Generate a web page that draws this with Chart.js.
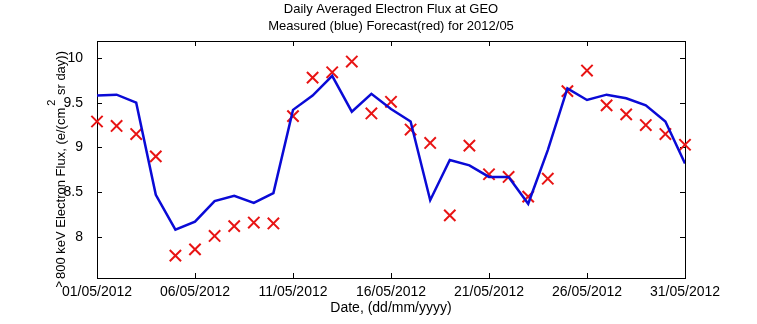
<!DOCTYPE html>
<html>
<head>
<meta charset="utf-8">
<title>Daily Averaged Electron Flux at GEO</title>
<script src="https://cdn.jsdelivr.net/npm/chart.js@4/dist/chart.umd.min.js"></script>
<style>
    html, body { margin: 0; padding: 0; background: #fff; }
    #contenedor { width: 757px; height: 324px; }
</style>
</head>
<body>
<div id="contenedor"><canvas id="chartFlujo" width="757" height="324"></canvas></div>
<script>
// Días del mes (mayo 2012)
const dias = [1, 2, 3, 4, 5, 6, 7, 8, 9, 10, 11, 12, 13, 14, 15, 16,
              17, 18, 19, 20, 21, 22, 23, 24, 25, 26, 27, 28, 29, 30, 31];

// Flujo medido (azul), log10
const flujoMedido = [9.58, 9.59, 9.50, 8.47, 8.08, 8.17, 8.40, 8.46, 8.38, 8.49,
                     9.42, 9.58, 9.80, 9.40, 9.60, 9.43, 9.29, 8.41, 8.86, 8.80,
                     8.67, 8.67, 8.37, 8.97, 9.66, 9.53, 9.59, 9.55, 9.47, 9.29, 8.82];

// Flujo pronosticado (rojo), log10
const flujoPronostico = [9.29, 9.24, 9.15, 8.90, 7.79, 7.86, 8.01, 8.12, 8.16, 8.15,
                         9.35, 9.78, 9.84, 9.96, 9.38, 9.51, 9.20, 9.05, 8.24, 9.02,
                         8.70, 8.67, 8.45, 8.65, 9.63, 9.86, 9.47, 9.37, 9.25, 9.15, 9.03];

// Marcas de los ejes
const diasMarcados = [1, 6, 11, 16, 21, 26, 31];
const etiquetasFecha = ['01/05/2012', '06/05/2012', '11/05/2012', '16/05/2012',
                        '21/05/2012', '26/05/2012', '31/05/2012'];
const valoresY = [8, 8.5, 9, 9.5, 10];

const fuente = "'Liberation Sans', Arial, sans-serif";

// Caja estilo MATLAB con marcas hacia dentro, títulos y etiquetas
const marcoMatlab = {
    id: 'marcoMatlab',
    beforeDatasetsDraw(chart) {
        const { ctx, chartArea: a, scales } = chart;
        ctx.save();
        ctx.strokeStyle = '#000';
        ctx.lineWidth = 1;
        ctx.strokeRect(a.left + 0.5, a.top + 0.5, a.right - a.left, a.bottom - a.top);
        ctx.beginPath();
        diasMarcados.forEach(d => {
            const x = Math.round(scales.x.getPixelForValue(d)) + 0.5;
            ctx.moveTo(x, a.bottom); ctx.lineTo(x, a.bottom - 5);
            ctx.moveTo(x, a.top); ctx.lineTo(x, a.top + 5);
        });
        valoresY.forEach(v => {
            const y = Math.round(scales.y.getPixelForValue(v)) + 0.5;
            ctx.moveTo(a.left, y); ctx.lineTo(a.left + 5, y);
            ctx.moveTo(a.right, y); ctx.lineTo(a.right - 5, y);
        });
        ctx.stroke();
        ctx.restore();
    },
    afterDraw(chart) {
        const { ctx, chartArea: a } = chart;
        const centro = (a.left + a.right) / 2;
        ctx.save();
        ctx.fillStyle = '#000';
        ctx.font = '13px ' + fuente;
        ctx.textAlign = 'center';
        ctx.textBaseline = 'middle';
        ctx.fillText('Daily Averaged Electron Flux at GEO', centro, 9);
        ctx.fillText('Measured (blue) Forecast(red) for 2012/05', centro, 26);
        ctx.font = '14px ' + fuente;
        ctx.fillText('Date, (dd/mm/yyyy)', centro, 308);
        ctx.fillText('^', 59, 288);

        // Etiqueta del eje Y con superíndice
        const p1 = '800 keV Electron Flux, (e/(cm';
        const p2 = ' sr day))';
        ctx.translate(61, 165);
        ctx.rotate(-Math.PI / 2);
        ctx.textAlign = 'left';
        ctx.font = '13px ' + fuente;
        const w1 = ctx.measureText(p1).width;
        const w3 = ctx.measureText(p2).width;
        ctx.font = '11px ' + fuente;
        const w2 = ctx.measureText('2').width + 3;
        const x = -(w1 + w2 + w3) / 2;
        ctx.font = '13px ' + fuente;
        ctx.fillText(p1, x, 0);
        ctx.font = '11px ' + fuente;
        ctx.fillText('2', x + w1 + 2, -9);
        ctx.font = '13px ' + fuente;
        ctx.fillText(p2, x + w1 + w2, 0);
        ctx.restore();
    }
};

const ctx = document.getElementById('chartFlujo').getContext('2d');
const chart = new Chart(ctx, {
    type: 'line',
    data: {
        datasets: [{
            label: 'Measured',
            data: dias.map((d, i) => ({ x: d, y: flujoMedido[i] })),
            borderColor: '#0a0ad6',
            borderWidth: 2.5,
            pointRadius: 0,
            fill: false,
            tension: 0
        }, {
            label: 'Forecast',
            data: dias.map((d, i) => ({ x: d, y: flujoPronostico[i] })),
            showLine: false,
            pointStyle: 'crossRot',
            pointRadius: 8,
            borderColor: '#e81414',
            borderWidth: 2,
            clip: false
        }]
    },
    options: {
        responsive: false,
        animation: false,
        layout: { padding: { top: 41, right: 72, left: 0, bottom: 0 } },
        plugins: {
            legend: { display: false },
            title: { display: false },
            tooltip: { enabled: false }
        },
        scales: {
            x: {
                type: 'linear',
                min: 1,
                max: 31,
                afterBuildTicks: s => { s.ticks = diasMarcados.map(v => ({ value: v })); },
                afterFit: s => { s.height = 46; },
                ticks: {
                    callback: (v, i) => etiquetasFecha[i],
                    font: { family: fuente, size: 14 },
                    color: '#000',
                    padding: -2,
                    maxRotation: 0,
                    autoSkip: false
                },
                grid: { display: false },
                border: { display: false }
            },
            y: {
                min: 7.54,
                max: 10.19,
                afterBuildTicks: s => { s.ticks = valoresY.map(v => ({ value: v })); },
                afterFit: s => { s.width = 97; },
                ticks: {
                    callback: v => String(v),
                    font: { family: fuente, size: 14 },
                    color: '#000',
                    padding: 6
                },
                grid: { display: false },
                border: { display: false }
            }
        }
    },
    plugins: [marcoMatlab]
});
</script>
</body>
</html>
